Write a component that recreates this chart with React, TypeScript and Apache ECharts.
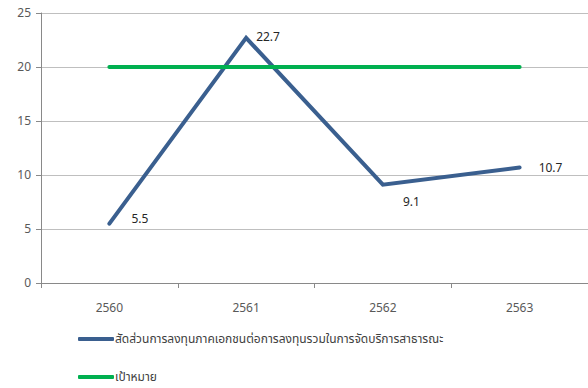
import React, { useEffect, useRef } from "react";
import * as echarts from "echarts";

const categories = ["2560", "2561", "2562", "2563"];
const ratioValues = [5.5, 22.7, 9.1, 10.7];
const targetValues = [20, 20, 20, 20];
const seriesNames = [
  "สัดส่วนการลงทุนภาคเอกชนต่อการลงทุนรวมในการจัดบริการสาธารณะ",
  "เป้าหมาย",
];

const FONT = "Tahoma, 'Noto Sans Thai', 'Noto Sans', 'DejaVu Sans', sans-serif";
const labelOffsets: [number, number][] = [
  [16, -5],
  [4, -1],
  [14, 17],
  [13, 1],
];

export default function App() {
  const ref = useRef<HTMLDivElement>(null);
  useEffect(() => {
    if (!ref.current) return;
    const chart = echarts.init(ref.current, null, { renderer: "svg" });
    const legendBase = {
      orient: "horizontal",
      left: 78,
      itemWidth: 36,
      itemHeight: 4,
      icon: "roundRect",
      padding: 0,
      textStyle: { color: "#404040", fontSize: 12, fontFamily: FONT, padding: [0, 0, 0, -4] },
    };
    chart.setOption({
      animation: false,
      textStyle: { fontFamily: FONT },
      grid: { left: 41, top: 13, width: 553, height: 270, containLabel: false },
      xAxis: {
        type: "category",
        data: categories,
        boundaryGap: true,
        axisLine: { lineStyle: { color: "#898989", width: 1 } },
        axisTick: { show: true, length: 5, lineStyle: { color: "#898989" } },
        axisLabel: { color: "#595959", fontSize: 12, margin: 19, fontFamily: FONT },
        splitLine: { show: false },
      },
      yAxis: {
        type: "value",
        min: 0,
        max: 25,
        interval: 5,
        axisLine: { show: true, lineStyle: { color: "#898989", width: 1 } },
        axisTick: { show: true, length: 5, lineStyle: { color: "#898989" } },
        axisLabel: { color: "#595959", fontSize: 12, margin: 10, fontFamily: FONT },
        splitLine: { lineStyle: { color: "#BFBFBF", width: 1 } },
      },
      legend: [
        { ...legendBase, top: 333, data: [{ name: seriesNames[0], itemStyle: { color: "#3A5F8F", opacity: 1 } }] },
        { ...legendBase, top: 371, data: [{ name: seriesNames[1], itemStyle: { color: "#00B050", opacity: 1 } }] },
      ],
      series: [
        {
          name: seriesNames[0],
          type: "line",
          data: ratioValues.map((v, i) => ({
            value: v,
            label: {
              show: true,
              position: "right",
              offset: labelOffsets[i],
              color: "#262626",
              fontSize: 12,
              fontFamily: FONT,
            },
          })),
          symbol: "circle",
          symbolSize: 2,
          showSymbol: true,
          lineStyle: { color: "#3A5F8F", width: 4, cap: "round", join: "miter" },
          itemStyle: { color: "#3A5F8F" },
        },
        {
          name: seriesNames[1],
          type: "line",
          data: targetValues,
          symbol: "none",
          lineStyle: { color: "#00B050", width: 4, cap: "round" },
          itemStyle: { color: "#00B050" },
        },
      ],
    });
    return () => chart.dispose();
  }, []);
  return <div ref={ref} style={{ width: 588, height: 388, position: "absolute", left: 0, top: 0 }} />;
}
